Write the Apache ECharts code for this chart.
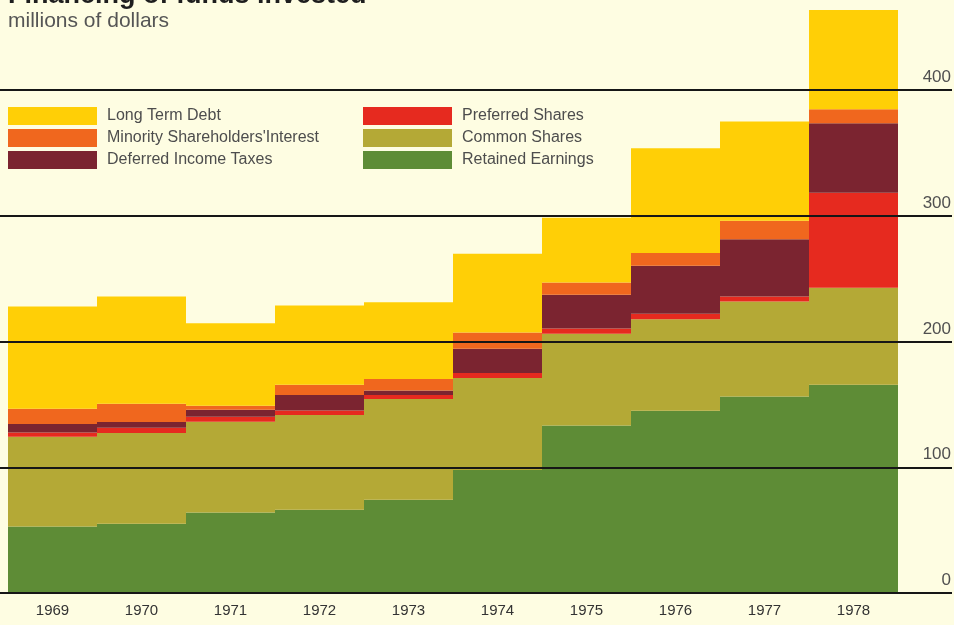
<!DOCTYPE html>
<html>
<head>
<meta charset="utf-8">
<style>
  html, body { margin: 0; padding: 0; background: #fefde2; }
  #chart { width: 954px; height: 625px; }
</style>
<script src="https://cdn.jsdelivr.net/npm/echarts@6/dist/echarts.min.js"></script>
</head>
<body>
<div id="chart"></div>
<script>
// Sources of funds invested, millions of dollars, stacked bottom to top
const years = ['1969', '1970', '1971', '1972', '1973', '1974', '1975', '1976', '1977', '1978'];
const retainedEarnings = [52.9, 55.1, 64.1, 66.2, 74.2, 97.8, 133.2, 144.9, 156.3, 165.6];
const commonShares     = [71.3, 72.1, 72.1, 75.3, 80.0, 73.1, 72.9, 72.9, 75.5, 77.2];
const preferredShares  = [3.5, 4.2, 3.9, 3.7, 3.2, 4.0, 4.2, 4.2, 4.0, 75.6];
const deferredTaxes    = [6.6, 4.5, 5.6, 12.2, 3.6, 19.3, 26.8, 38.2, 45.6, 55.2];
const minorityInterest = [12.2, 14.6, 3.2, 8.2, 9.1, 13.0, 9.8, 10.1, 14.6, 11.1];
const longTermDebt     = [81.3, 85.3, 65.7, 63.0, 61.2, 62.5, 51.6, 83.4, 78.9, 79.0];

const valueMax = 470;
const valueStep = 100;

const palette = {
  'Long Term Debt': '#ffcf06',
  "Minority Shareholders'Interest": '#f0671e',
  'Deferred Income Taxes': '#7b2430',
  'Preferred Shares': '#e62a1f',
  'Common Shares': '#b4a936',
  'Retained Earnings': '#5e8c36'
};

const stackOrder = [
  ['Retained Earnings', retainedEarnings],
  ['Common Shares', commonShares],
  ['Preferred Shares', preferredShares],
  ['Deferred Income Taxes', deferredTaxes],
  ["Minority Shareholders'Interest", minorityInterest],
  ['Long Term Debt', longTermDebt]
];

const textFont = '"Liberation Sans", Arial, Helvetica, sans-serif';

const legendCommon = {
  orient: 'vertical',
  top: 107,
  padding: 0,
  itemWidth: 89,
  itemHeight: 18,
  itemGap: 4,
  icon: 'rect',
  textStyle: { color: '#4d4d4d', fontSize: 16, fontFamily: textFont, padding: [0, 0, 0, 5] },
  selectedMode: false
};

const chart = echarts.init(document.getElementById('chart'), null, { renderer: 'canvas' });

chart.setOption({
  backgroundColor: '#fefde2',
  animation: false,
  title: [
    {
      text: 'Financing of funds invested',
      left: 8,
      top: -18,
      padding: 0,
      textStyle: { color: '#1e1e1e', fontSize: 27, fontWeight: 'bold', fontFamily: textFont }
    },
    {
      text: 'millions of dollars',
      left: 8,
      top: 11,
      padding: 0,
      textStyle: { color: '#555', fontSize: 21, fontWeight: 'normal', fontFamily: textFont }
    }
  ],
  legend: [
    Object.assign({ left: 8, data: ['Long Term Debt', "Minority Shareholders'Interest", 'Deferred Income Taxes'] }, legendCommon),
    Object.assign({ left: 363, data: ['Preferred Shares', 'Common Shares', 'Retained Earnings'] }, legendCommon)
  ],
  grid: [
    { left: 8, right: 56, top: 2, bottom: 32 },
    { left: 0, right: 1, top: 2, bottom: 32 }
  ],
  xAxis: [
    {
      type: 'category',
      gridIndex: 0,
      data: years,
      axisLine: { show: false },
      axisTick: { show: false },
      axisLabel: { color: '#333', fontSize: 15, fontFamily: textFont, margin: 10 }
    },
    {
      type: 'value',
      gridIndex: 1,
      show: false
    }
  ],
  yAxis: [
    {
      type: 'value',
      gridIndex: 0,
      min: 0,
      max: valueMax,
      show: false
    },
    {
      type: 'value',
      gridIndex: 1,
      position: 'right',
      min: 0,
      max: valueMax,
      interval: valueStep,
      z: 10,
      axisLine: { show: false },
      axisTick: { show: false },
      axisLabel: {
        inside: true,
        margin: 1,
        showMaxLabel: false,
        verticalAlign: 'bottom',
        padding: [0, 0, 4, 0],
        color: '#505050',
        fontSize: 17,
        fontFamily: textFont
      },
      splitLine: {
        show: true,
        showMaxLine: false,
        lineStyle: { color: '#161616', width: 2 }
      }
    }
  ],
  series: stackOrder.map(([name, values]) => ({
    name: name,
    type: 'bar',
    stack: 'funds',
    xAxisIndex: 0,
    yAxisIndex: 0,
    barWidth: '100%',
    barCategoryGap: '0%',
    itemStyle: { color: palette[name] },
    emphasis: { disabled: true },
    data: values
  }))
});
</script>
</body>
</html>
